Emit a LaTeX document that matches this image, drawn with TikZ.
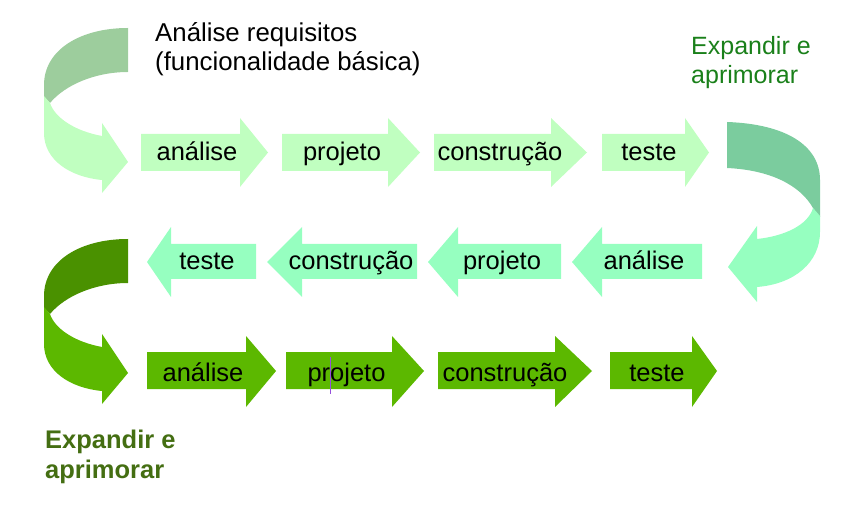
\documentclass[tikz,border=0pt]{standalone}
\usepackage{fontspec}
\setmainfont{Liberation Sans}
\usepackage{tikz}

\definecolor{paleleaf}{RGB}{192,255,192}
\definecolor{sagefold}{RGB}{157,205,157}
\definecolor{mintleaf}{RGB}{150,255,192}
\definecolor{mintfold}{RGB}{123,204,158}
\definecolor{grassleaf}{RGB}{92,184,0}
\definecolor{grassfold}{RGB}{74,145,0}
\definecolor{titlegreen}{RGB}{26,128,26}
\definecolor{olivetext}{RGB}{68,110,18}
\definecolor{caretpurple}{RGB}{150,80,220}

\begin{document}
\begin{tikzpicture}[x=1pt,y=-1pt]
	\tikzstyle{every node}+=[inner sep=0pt, anchor=base, font=\fontsize{25.5}{30}\selectfont]
	\useasboundingbox (0,0) rectangle (864,510);
	% top left curl
	\fill [sagefold] (128,28) .. controls (80,28) and (44,50) .. (44,85) -- (44,97) -- (50,103) .. controls (65,85) and (95,72) .. (128,72) -- cycle;
	\fill [paleleaf] (50,103) -- (44,96) -- (44,133) .. controls (44,160) and (70,177) .. (102,180) -- (102,193) -- (128,162) -- (102,123) -- (102,136) .. controls (75,131) and (55,118) .. (50,103) -- cycle;
	% first round
	\fill [paleleaf] (141,134) -- (240,134) -- (240,118) -- (268,152.5) -- (240,187) -- (240,171) -- (141,171) -- cycle;
	\fill [paleleaf] (282,134) -- (388,134) -- (388,118) -- (420,152.5) -- (388,187) -- (388,171) -- (282,171) -- cycle;
	\fill [paleleaf] (434,134) -- (551,134) -- (551,118) -- (587,152.5) -- (551,187) -- (551,171) -- (434,171) -- cycle;
	\fill [paleleaf] (602,134) -- (685,134) -- (685,118) -- (709,152.5) -- (685,187) -- (685,171) -- (602,171) -- cycle;
	\node (analiseA) at (197,161) {análise};
	\node (projetoA) at (342,161) {projeto};
	\node (construcaoA) at (500,161) {construção};
	\node (testeA) at (649,161) {teste};
	% right curl
	\fill [mintfold] (727,122) .. controls (785,124) and (820,145) .. (820,180) -- (820,217) -- (813,208) .. controls (800,185) and (770,170) .. (727,168) -- cycle;
	\fill [mintleaf] (813,208) -- (820,216) -- (820,232) .. controls (820,262) and (795,284) .. (757,287) -- (757,302) -- (728,267) -- (757,226) -- (757,239) .. controls (785,236) and (808,225) .. (813,208) -- cycle;
	% second round
	\fill [mintleaf] (702,244) -- (602,244) -- (602,227) -- (572,262) -- (602,297) -- (602,279) -- (702,279) -- cycle;
	\fill [mintleaf] (561,244) -- (458,244) -- (458,227) -- (428,262) -- (458,297) -- (458,279) -- (561,279) -- cycle;
	\fill [mintleaf] (417,244) -- (302,244) -- (302,227) -- (267,262) -- (302,297) -- (302,279) -- (417,279) -- cycle;
	\fill [mintleaf] (256,244) -- (171,244) -- (171,227) -- (147,262) -- (171,297) -- (171,279) -- (256,279) -- cycle;
	\node (analiseB) at (644,270) {análise};
	\node (projetoB) at (502,270) {projeto};
	\node (construcaoB) at (351,270) {construção};
	\node (testeB) at (207,270) {teste};
	% bottom left curl
	\begin{scope}[shift={(0,211)}]
		\fill [grassfold] (128,28) .. controls (80,28) and (44,50) .. (44,85) -- (44,97) -- (50,103) .. controls (65,85) and (95,72) .. (128,72) -- cycle;
		\fill [grassleaf] (50,103) -- (44,96) -- (44,133) .. controls (44,160) and (70,177) .. (102,180) -- (102,193) -- (128,162) -- (102,123) -- (102,136) .. controls (75,131) and (55,118) .. (50,103) -- cycle;
	\end{scope}
	% third round
	\fill [grassleaf] (147,352) -- (246,352) -- (246,336) -- (276,371) -- (246,407) -- (246,389) -- (147,389) -- cycle;
	\fill [grassleaf] (286,352) -- (392,352) -- (392,336) -- (424,371) -- (392,407) -- (392,389) -- (286,389) -- cycle;
	\fill [grassleaf] (438,352) -- (555,352) -- (555,336) -- (592,371) -- (555,407) -- (555,389) -- (438,389) -- cycle;
	\fill [grassleaf] (610,352) -- (692,352) -- (692,336) -- (717,371) -- (692,407) -- (692,389) -- (610,389) -- cycle;
	\node (analiseC) at (203,381) {análise};
	\node (projetoC) at (346.5,381) {projeto};
	\node (construcaoC) at (505,381) {construção};
	\node (testeC) at (657,381) {teste};
	\draw [caretpurple, line width=0.8pt] (330,357) -- (330,394);
	% captions
	\node (req1) at (155,42) [anchor=base west, font=\fontsize{25.8}{30}\selectfont] {Análise requisitos};
	\node (req2) at (155,71) [anchor=base west, font=\fontsize{25.8}{30}\selectfont] {(funcionalidade básica)};
	\node (expA1) at (691,55) [anchor=base west, text=titlegreen, font=\fontsize{25}{30}\selectfont] {Expandir e};
	\node (expA2) at (691,84) [anchor=base west, text=titlegreen, font=\fontsize{25}{30}\selectfont] {aprimorar};
	\node (expB1) at (45,448) [anchor=base west, text=olivetext, font=\fontsize{25.5}{30}\selectfont\bfseries] {Expandir e};
	\node (expB2) at (45,478) [anchor=base west, text=olivetext, font=\fontsize{25.5}{30}\selectfont\bfseries] {aprimorar};
\end{tikzpicture}
\end{document}
